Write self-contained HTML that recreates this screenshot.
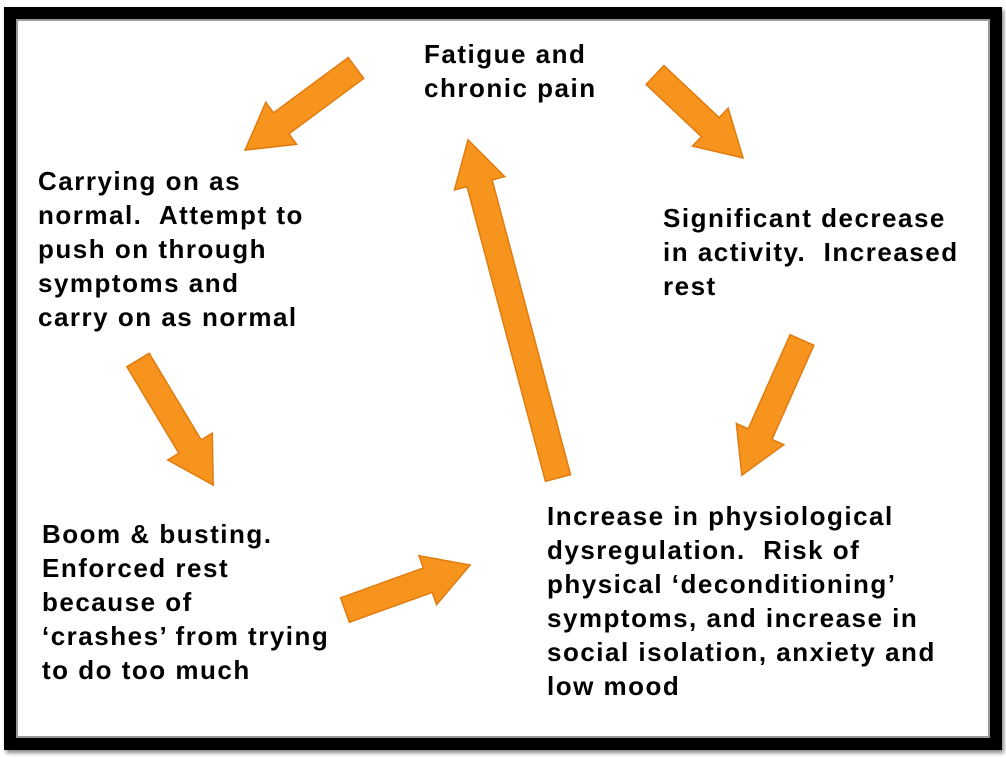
<!DOCTYPE html>
<html><head><style>
body{margin:0;width:1006px;height:758px;background:#fff;position:relative;overflow:hidden;font-family:"Liberation Sans",Arial,sans-serif}
.frame{position:absolute;left:4px;top:7px;width:974px;height:719px;border:12px solid #000;box-shadow:2px 3px 4px #888}
.frame:after{content:"";position:absolute;left:0;top:0;right:0;bottom:0;border:2px solid #999}
.t{position:absolute;font-weight:bold;font-size:26px;line-height:34px;letter-spacing:1.5px;color:#000;white-space:nowrap}
svg{position:absolute;left:0;top:0}
</style></head><body>
<div class="frame"></div>
<svg width="1006" height="758">
<g fill="#F7941D" stroke="#E07B10" stroke-width="1.5">
<g transform="translate(356,68) rotate(143.5)"><polygon points="0,-13 93,-13 93,-26 138,0 93,26 93,13 0,13"/></g>
<g transform="translate(655,75) rotate(43.3)"><polygon points="0,-13 76,-13 76,-26 121,0 76,26 76,13 0,13"/></g>
<g transform="translate(802,340) rotate(114)"><polygon points="0,-13 103,-13 103,-26 148,0 103,26 103,13 0,13"/></g>
<g transform="translate(558,478) rotate(-104.9)"><polygon points="0,-13 305,-13 305,-26 350,0 305,26 305,13 0,13"/></g>
<g transform="translate(138,360) rotate(59)"><polygon points="0,-13 101,-13 101,-26 146,0 101,26 101,13 0,13"/></g>
<g transform="translate(345,610) rotate(-19.8)"><polygon points="0,-13 88,-13 88,-26 133,0 88,26 88,13 0,13"/></g>
</g>
</svg>
<div class="t" style="left:424px;top:37px">Fatigue and<br>chronic pain</div>
<div class="t" style="left:38px;top:164px">Carrying on as<br>normal.&nbsp; Attempt to<br>push on through<br>symptoms and<br>carry on as normal</div>
<div class="t" style="left:663px;top:201px">Significant decrease<br>in activity.&nbsp; Increased<br>rest</div>
<div class="t" style="left:42px;top:517px">Boom &amp; busting.<br>Enforced rest<br>because of<br>‘crashes’ from trying<br>to do too much</div>
<div class="t" style="left:547px;top:499px">Increase in physiological<br>dysregulation.&nbsp; Risk of<br>physical ‘deconditioning’<br>symptoms, and increase in<br>social isolation, anxiety and<br>low mood</div>
</body></html>
